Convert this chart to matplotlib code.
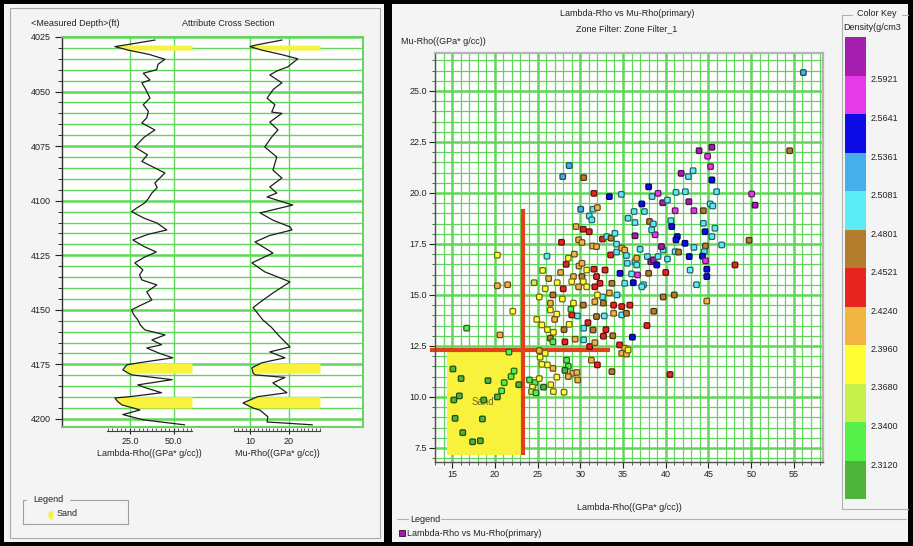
import numpy as np
import matplotlib
matplotlib.use("Agg")
import matplotlib.pyplot as plt
from matplotlib.path import Path
from matplotlib.colors import ListedColormap, BoundaryNorm
from matplotlib.patches import Rectangle, Ellipse
from matplotlib.lines import Line2D
from matplotlib.ticker import MultipleLocator, FixedLocator, FormatStrFormatter
import matplotlib.cm as cm

plt.rcParams["font.family"] = ["Liberation Sans", "DejaVu Sans"]
plt.rcParams["font.size"] = 6.5

# ---------------- well-log curves (depth in ft) ----------------
lam_depth = [4026.4, 4027.5, 4028.7, 4029.4, 4031.0, 4033.0, 4035.2, 4037.5, 4040.0, 4041.6,
             4044.7, 4046.0, 4049.0, 4053.0, 4056.0, 4059.0, 4062.0, 4064.4, 4067.6, 4071.0,
             4075.4, 4079.0, 4082.0, 4087.3, 4091.9, 4094.0, 4096.5, 4099.0, 4101.0, 4103.3,
             4105.0, 4108.0, 4110.2, 4113.4, 4115.5, 4118.0, 4121.0, 4123.5, 4126.0, 4128.5,
             4131.7, 4134.0, 4136.3, 4138.6, 4141.8, 4145.5, 4148.0, 4150.0, 4152.0, 4154.6,
             4157.0, 4159.2, 4161.5, 4163.8, 4166.0, 4167.5, 4170.0, 4172.0, 4174.3, 4175.2,
             4177.5, 4179.0, 4179.8, 4182.0, 4184.4, 4186.0, 4188.0, 4189.8, 4190.4, 4192.0,
             4193.6, 4195.0, 4195.9, 4198.0, 4200.4, 4202.7]
lam_value = [39.2, 31.0, 22.0, 16.5, 24.0, 36.0, 44.9, 41.0, 40.2, 32.6,
             36.4, 31.8, 34.0, 36.4, 32.6, 35.5, 34.6, 31.8, 39.2, 33.0,
             27.8, 35.0, 31.8, 44.9, 39.2, 40.5, 37.5, 35.5, 33.5, 29.0,
             26.0, 33.0, 40.3, 46.0, 35.0, 26.7, 33.0, 40.0, 33.0, 27.8,
             32.4, 30.5, 31.8, 40.3, 34.6, 37.5, 31.0, 26.0, 27.0, 29.5,
             31.0, 33.5, 45.0, 37.5, 43.0, 34.6, 42.0, 49.4, 30.0, 23.3,
             21.0, 24.0, 26.0, 49.0, 29.5, 35.0, 43.0, 25.0, 16.5, 18.0,
             20.5, 27.0, 30.7, 21.0, 32.4, 56.0]

mu_depth = [4026.4, 4027.5, 4028.7, 4029.4, 4031.0, 4033.0, 4035.0, 4038.7, 4040.5, 4042.4,
            4046.0, 4049.0, 4053.0, 4056.0, 4059.4, 4060.0, 4064.0, 4067.6, 4071.0, 4075.4,
            4080.0, 4086.0, 4089.6, 4093.7, 4096.5, 4098.3, 4102.0, 4105.6, 4109.0, 4112.0,
            4113.4, 4116.0, 4118.9, 4124.0, 4128.5, 4132.6, 4137.2, 4142.3, 4146.0, 4149.0,
            4154.6, 4158.0, 4162.0, 4167.0, 4169.3, 4172.0, 4174.3, 4176.6, 4179.0, 4179.8,
            4181.0, 4183.5, 4188.0, 4189.8, 4192.7, 4195.0, 4196.0, 4199.0, 4201.4, 4202.7]
mu_value = [18.2, 15.0, 11.5, 10.0, 13.0, 18.0, 22.3, 19.7, 17.0, 15.1,
            18.2, 16.0, 14.4, 16.4, 15.6, 18.2, 15.1, 17.2, 15.5, 13.8,
            16.9, 15.9, 18.2, 15.1, 16.9, 14.4, 21.0, 12.6, 16.0, 20.3,
            20.8, 15.0, 11.3, 15.9, 10.5, 13.8, 20.3, 15.9, 13.0, 10.8,
            13.3, 15.5, 17.5, 20.3, 15.1, 19.0, 13.0, 10.5, 10.8, 11.3,
            19.0, 15.9, 19.5, 12.0, 8.2, 10.8, 12.6, 14.6, 14.4, 26.0]

sand_zones = [(4028.7, 4031.0), (4174.3, 4179.0), (4189.8, 4195.0)]

depth_ticks = [4025, 4050, 4075, 4100, 4125, 4150, 4175, 4200]

# ---------------- cross-plot samples ----------------
xp_lambda = [
    16.7, 15.1, 16.05, 19.2, 15.85, 15.2, 18.7, 15.35, 18.55, 16.25, 17.4, 18.3, 20.3, 20.8,
    21.1, 21.9, 22.25, 21.65, 22.8, 24.05, 24.7, 24.4, 24.3, 24.8, 25.2, 25.7, 26.85, 28.1,
    26.55, 27.25, 26.8, 26.15, 25.5, 28.4, 28.6, 28.2, 29.1, 29.6, 28.6, 29.7, 31.3, 32.0,
    33.7, 25.2, 25.3, 25.9, 22.1, 20.6, 24.9, 25.5, 26.5, 27.25, 27.0, 26.15, 26.85, 26.5,
    26.8, 28.2, 29.4, 28.1, 28.7, 30.4, 31.1, 31.7, 30.4, 30.9, 31.5, 32.7, 29.65, 29.0,
    31.9, 32.8, 33.9, 34.85, 35.4, 34.6, 35.2, 34.85, 35.4, 35.6, 36.1,
    28.7, 27.95, 30.4, 31.6, 33.4, 34.8, 30.05, 31.5, 32.0, 31.05, 31.35, 29.5, 30.35, 31.05,
    27.8, 29.8, 30.2, 32.6, 33.1, 33.6, 34.05, 34.25, 31.45, 31.9, 26.1, 28.35, 29.85, 30.2,
    31.6, 30.75, 33.55, 34.25, 34.85, 35.2, 35.4, 35.5, 36.4, 36.6, 36.6, 29.2, 29.0, 30.2,
    30.35, 31.9, 32.9, 32.3, 33.7, 34.65, 36.0, 35.2, 36.2, 37.4, 37.0, 37.85, 38.25, 38.55,
    38.95, 39.1, 39.7, 39.5, 38.0, 36.7, 38.75, 36.4, 36.3, 35.6, 36.4, 37.2, 37.5, 38.0,
    38.4, 39.1, 39.65, 40.2, 38.1, 38.55, 38.35, 40.6, 40.7, 41.1, 41.2, 42.3, 42.7, 41.8,
    42.65, 43.2, 43.9, 44.9, 45.4, 45.25, 45.4, 45.95, 44.4, 43.3, 45.2, 45.5, 44.4, 45.75,
    44.6, 45.4, 46.55, 44.65, 44.5, 42.25, 41.35, 41.2, 42.75, 44.3, 44.65, 44.8, 44.8, 43.6,
    42.85, 40.0, 40.2, 48.1,
    56.1, 54.5, 50.05, 50.45, 49.75, 43.3, 37.2, 39.7, 41.0, 41.1, 41.5,
    29.2, 30.35, 31.7, 32.7, 33.9, 34.85, 35.8, 29.8, 30.75, 31.7,
    25.6, 26.3, 25.9, 26.8, 27.3, 27.7, 28.0, 27.9, 28.6, 29.3, 26.5, 25.2, 24.6, 28.9,
    32.6, 33.4, 32.0, 34.3, 33.0, 33.8, 20.3, 20.3, 21.5, 40.5, 44.8, 38.6, 37.8,
]
xp_mu = [
    13.37, 11.37, 10.9, 10.8, 10.05, 9.85, 9.85, 8.95, 8.92, 8.25, 7.8, 7.85, 10.0, 10.3,
    10.7, 11.0, 11.27, 12.2, 10.6, 10.83, 10.7, 10.48, 10.26, 10.2, 10.9, 10.48, 10.26, 10.23,
    10.6, 10.97, 11.4, 11.57, 11.6, 11.8, 11.5, 11.3, 11.16, 11.2, 11.0, 10.83, 11.8, 11.57,
    11.24, 12.27, 11.95, 12.14, 14.2, 13.04, 13.8, 13.53, 14.26, 14.06, 13.8, 13.3, 13.17, 12.88,
    12.7, 12.7, 12.83, 13.3, 13.56, 12.8, 12.47, 12.66, 13.37, 13.64, 13.28, 12.98, 13.97, 14.02,
    13.94, 13.97, 14.1, 14.02, 14.1, 12.55, 12.39, 12.14, 12.1, 12.3, 12.93,
    21.34, 20.8, 20.75, 19.98, 19.82, 19.93, 19.2, 19.2, 19.28, 18.87, 18.68, 18.35, 18.22, 18.1,
    17.58, 17.7, 17.57, 17.74, 17.86, 17.78, 18.02, 17.49, 17.4, 17.37, 16.9, 16.5, 16.42, 16.55,
    16.26, 16.22, 16.96, 17.1, 17.3, 17.2, 16.93, 16.55, 16.63, 16.8, 16.47, 15.9, 15.65, 15.9,
    15.65, 15.9, 16.22, 15.57, 15.57, 16.06, 16.03, 15.57, 15.6, 15.5, 17.24, 16.88, 16.63, 16.72,
    16.47, 16.88, 17.2, 17.37, 16.06, 15.98, 17.95, 17.9, 19.09, 18.76, 18.55, 19.46, 19.09, 20.3,
    19.82, 19.98, 19.52, 19.65, 18.6, 18.48, 18.19, 18.64, 18.35, 19.13, 20.03, 20.06, 19.57, 20.96,
    20.8, 21.09, 22.07, 21.8, 22.24, 21.29, 20.64, 20.06, 19.13, 19.13, 19.46, 19.36, 18.51, 18.27,
    18.1, 17.86, 17.45, 17.4, 17.12, 17.53, 17.86, 17.7, 16.88, 16.9, 16.67, 16.26, 15.9, 15.5,
    16.22, 16.1, 16.76, 16.47,
    25.9, 22.07, 19.95, 19.4, 17.68, 17.33, 15.4, 14.9, 15.0, 17.12, 17.1,
    14.6, 14.5, 14.67, 14.6, 14.5, 14.43, 14.5, 15.4, 15.4, 15.4,
    16.2, 15.8, 15.3, 15.0, 15.6, 16.1, 15.3, 14.8, 16.8, 17.0, 14.6, 14.9, 15.6, 14.3,
    14.9, 15.1, 15.0, 15.0, 13.3, 13.0, 16.95, 15.45, 15.5, 11.1, 14.7, 14.2, 13.5,
]
xp_density = [
    2.33, 2.30, 2.30, 2.30, 2.30, 2.30, 2.30, 2.30, 2.30, 2.30, 2.30, 2.30, 2.30, 2.33,
    2.33, 2.33, 2.33, 2.33, 2.30, 2.33, 2.33, 2.38, 2.36, 2.33, 2.38, 2.30, 2.38, 2.38,
    2.38, 2.38, 2.41, 2.38, 2.38, 2.33, 2.33, 2.30, 2.41, 2.41, 2.41, 2.41, 2.41, 2.44,
    2.47, 2.41, 2.38, 2.38, 2.38, 2.41, 2.38, 2.38, 2.38, 2.38, 2.41, 2.38, 2.38, 2.47,
    2.33, 2.44, 2.41, 2.47, 2.38, 2.49, 2.44, 2.41, 2.49, 2.44, 2.47, 2.44, 2.49, 2.44,
    2.47, 2.49, 2.41, 2.49, 2.47, 2.44, 2.41, 2.41, 2.41, 2.38, 2.55,
    2.52, 2.52, 2.47, 2.44, 2.55, 2.49, 2.52, 2.49, 2.41, 2.49, 2.49, 2.41, 2.44, 2.44,
    2.44, 2.41, 2.41, 2.44, 2.49, 2.47, 2.49, 2.49, 2.41, 2.41, 2.49, 2.44, 2.41, 2.41,
    2.44, 2.38, 2.44, 2.49, 2.41, 2.41, 2.49, 2.49, 2.49, 2.41, 2.49, 2.41, 2.38, 2.47,
    2.38, 2.44, 2.44, 2.44, 2.47, 2.55, 2.49, 2.49, 2.55, 2.49, 2.49, 2.49, 2.60, 2.60,
    2.55, 2.49, 2.49, 2.60, 2.47, 2.58, 2.58, 2.60, 2.49, 2.49, 2.49, 2.55, 2.49, 2.55,
    2.49, 2.58, 2.60, 2.49, 2.47, 2.49, 2.49, 2.49, 2.55, 2.58, 2.49, 2.49, 2.60, 2.60,
    2.49, 2.49, 2.60, 2.58, 2.60, 2.58, 2.55, 2.49, 2.47, 2.58, 2.49, 2.49, 2.49, 2.49,
    2.55, 2.49, 2.49, 2.47, 2.49, 2.55, 2.55, 2.55, 2.55, 2.55, 2.58, 2.55, 2.55, 2.49,
    2.49, 2.44, 2.49, 2.44,
    2.52, 2.47, 2.58, 2.60, 2.47, 2.49, 2.49, 2.47, 2.47, 2.49, 2.47,
    2.38, 2.47, 2.41, 2.47, 2.44, 2.44, 2.44, 2.41, 2.38, 2.44,
    2.38, 2.41, 2.38, 2.47, 2.38, 2.41, 2.44, 2.38, 2.38, 2.41, 2.41, 2.38, 2.36, 2.33,
    2.49, 2.41, 2.38, 2.49, 2.44, 2.47, 2.38, 2.41, 2.41, 2.44, 2.41, 2.47, 2.44,
]

# density classes of the colour key (g/cm3), lowest to highest
key_bounds = [2.284, 2.3120, 2.3400, 2.3680, 2.3960, 2.4240, 2.4521,
              2.4801, 2.5081, 2.5361, 2.5641, 2.5921, 2.620]
key_colors = ["#4fb43c", "#55f04a", "#c8f04c", "#ffff33", "#f2b443", "#e6261e",
              "#b27d2d", "#5cecf5", "#46aee8", "#0c0ce6", "#e63ae8", "#a51fae"]

# sand cut-offs on the cross-plot
sand_lambda_max = 23.3
sand_mu_max = 12.3
sand_box = (14.4, 7.16)

# ---------------- layout helpers (pixel geometry) ----------------
W, H = 913, 546
GREEN = "#62d65a"
YELLOW = "#f8f23c"


def box(x0, y0, x1, y1):
    return [x0 / W, 1 - y1 / H, (x1 - x0) / W, (y1 - y0) / H]


def ftext(x, y, s, **kw):
    kw.setdefault("ha", "left")
    kw.setdefault("va", "center")
    kw.setdefault("color", "#222222")
    return fig.text(x / W, 1 - y / H, s, **kw)


def fline(xs, ys, **kw):
    fig.add_artist(Line2D([x / W for x in xs], [1 - y / H for y in ys],
                          transform=fig.transFigure, **kw))


def frect(x0, y0, x1, y1, **kw):
    fig.add_artist(Rectangle((x0 / W, 1 - y1 / H), (x1 - x0) / W, (y1 - y0) / H,
                             transform=fig.transFigure, **kw))


def rounded_square(r=0.45):
    verts = [(-1 + r, -1), (1 - r, -1), (1, -1), (1, -1 + r), (1, 1 - r), (1, 1),
             (1 - r, 1), (-1 + r, 1), (-1, 1), (-1, 1 - r), (-1, -1 + r), (-1, -1),
             (-1 + r, -1), (-1 + r, -1)]
    codes = [Path.MOVETO, Path.LINETO, Path.CURVE3, Path.CURVE3, Path.LINETO,
             Path.CURVE3, Path.CURVE3, Path.LINETO, Path.CURVE3, Path.CURVE3,
             Path.LINETO, Path.CURVE3, Path.CURVE3, Path.CLOSEPOLY]
    return Path(verts, codes)


fig = plt.figure(figsize=(W / 100, H / 100), dpi=100, facecolor="black")

# window panels
frect(4, 4, 384, 542, facecolor="#f4f4f4", edgecolor="none", zorder=-10)
frect(392, 4, 908, 542, facecolor="#f4f4f4", edgecolor="none", zorder=-10)
frect(10, 8, 380, 538, facecolor="none", edgecolor="#a8a8a8", lw=0.8, zorder=-9)

# ================= left panel: attribute cross section =================
D_TOP, D_BOT = 4025.0, 4203.7
ax_t = fig.add_axes(box(62, 37, 363, 427))
ax_t.set_facecolor("white")
ax_t.set_xlim(0, 1)
ax_t.set_ylim(D_BOT, D_TOP)
ax_t.yaxis.set_major_locator(FixedLocator(depth_ticks))
ax_t.yaxis.set_minor_locator(MultipleLocator(5))
ax_t.grid(axis="y", which="major", color=GREEN, lw=1.8)
ax_t.grid(axis="y", which="minor", color=GREEN, lw=1.0)
ax_t.set_xticks([])
for s in ("top", "right", "bottom"):
    ax_t.spines[s].set_color(GREEN)
    ax_t.spines[s].set_linewidth(1.4)
ax_t.spines["left"].set_color("#303030")
ax_t.spines["left"].set_linewidth(1.0)
ax_t.tick_params(axis="y", which="major", length=5, width=0.8, pad=3, labelsize=6.5,
                 colors="#222222")
ax_t.tick_params(axis="y", which="minor", length=3, width=0.7, colors="#303030")


def log_track(x0, x1, lo, hi, depth, value, grid_vals, tick_vals, tick_fmt, minor_step, label):
    ax = fig.add_axes(box(x0, 37, x1, 427))
    ax.set_xlim(lo, hi)
    ax.set_ylim(D_BOT, D_TOP)
    ax.axis("off")
    for g in grid_vals:
        ax.axvline(g, color=GREEN, lw=1.0, zorder=0.5)
    d = np.asarray(depth)
    v = np.asarray(value)
    for top, base in sand_zones:
        m = (d >= top) & (d <= base)
        ax.fill_betweenx(d, v, hi, where=m, color=YELLOW, lw=0, zorder=1)
    ax.plot(v, d, color="#1e1e1e", lw=0.9, zorder=2)
    # scale bar beneath the track
    sc = fig.add_axes(box(x0, 430, x1, 431))
    sc.set_xlim(lo, hi)
    sc.set_facecolor("none")
    for s in ("top", "left", "right"):
        sc.spines[s].set_visible(False)
    sc.spines["bottom"].set_color("#404040")
    sc.set_yticks([])
    sc.xaxis.set_major_locator(FixedLocator(tick_vals))
    sc.xaxis.set_major_formatter(FormatStrFormatter(tick_fmt))
    sc.xaxis.set_minor_locator(MultipleLocator(minor_step))
    sc.tick_params(axis="x", which="major", direction="inout", length=5, width=0.8,
                   pad=2, labelsize=6.5, colors="#222222")
    sc.tick_params(axis="x", which="minor", direction="in", length=2.5, width=0.6,
                   colors="#404040")
    ftext((x0 + x1) / 2, 453, label, ha="center", fontsize=6.5)


log_track(107, 192, 12.0, 60.3, lam_depth, lam_value, [25, 50], [25, 50], "%.1f", 2.5,
          "Lambda-Rho((GPa* g/cc))")
log_track(234, 320, 5.9, 28.0, mu_depth, mu_value, [10, 20], [10, 20], "%d", 1.0,
          "Mu-Rho((GPa* g/cc))")

ftext(31, 24, "<Measured Depth>(ft)")
ftext(228, 24, "Attribute Cross Section", ha="center")

# left legend group box
fline([23, 23, 128, 128, 23], [500, 524, 524, 500, 500], color="#a0a0a0", lw=0.8)
ftext(33, 500, "Legend", backgroundcolor="#f4f4f4", fontsize=6.5)
fig.add_artist(Ellipse((51 / W, 1 - 515 / H), 5 / W, 9 / H, transform=fig.transFigure,
                       facecolor=YELLOW, edgecolor="none"))
ftext(57, 513, "Sand")

# ================= right panel: cross-plot =================
ax_s = fig.add_axes(box(435, 53, 823, 462))
ax_s.set_facecolor("white")
ax_s.set_xlim(13.0, 58.4)
ax_s.set_ylim(6.81, 26.86)
ax_s.xaxis.set_major_locator(MultipleLocator(5))
ax_s.xaxis.set_minor_locator(MultipleLocator(1))
ax_s.yaxis.set_major_locator(MultipleLocator(2.5))
ax_s.yaxis.set_minor_locator(MultipleLocator(0.5))
ax_s.yaxis.set_major_formatter(FormatStrFormatter("%.1f"))
ax_s.set_axisbelow(True)
ax_s.grid(which="major", color=GREEN, lw=1.8)
ax_s.grid(which="minor", color=GREEN, lw=0.9)
for s in ("top", "right"):
    ax_s.spines[s].set_color("#b4b4b4")
    ax_s.spines[s].set_linewidth(1.6)
for s in ("left", "bottom"):
    ax_s.spines[s].set_color("#505050")
    ax_s.spines[s].set_linewidth(1.0)
ax_s.tick_params(which="major", length=4, width=0.8, pad=2, labelsize=6.5, colors="#222222")
ax_s.tick_params(which="minor", length=2, width=0.6, colors="#404040")

ax_s.add_patch(Rectangle(sand_box, sand_lambda_max - sand_box[0], sand_mu_max - sand_box[1],
                         facecolor=YELLOW, edgecolor="none", zorder=1.5))
ax_s.text(18.6, 9.75, "Sand", color="#6f6a2a", fontsize=7, ha="center", va="center",
          zorder=1.6)
ax_s.plot([sand_lambda_max, sand_lambda_max], [sand_box[1], 19.2], color="#e2401c", lw=3.0,
          solid_capstyle="butt", zorder=2)
ax_s.plot([12.4, 33.5], [sand_mu_max, sand_mu_max], color="#e2401c", lw=3.0,
          solid_capstyle="butt", zorder=2, clip_on=False)

cmap = ListedColormap(key_colors)
norm = BoundaryNorm(key_bounds, cmap.N)
face = cmap(norm(np.asarray(xp_density)))
edge = face.copy()
edge[:, :3] *= 0.42
ax_s.scatter(xp_lambda, xp_mu, s=16, marker=rounded_square(), c=face, edgecolors=edge,
             linewidths=0.9, zorder=3)

ftext(627, 14, "Lambda-Rho vs Mu-Rho(primary)", ha="center")
ftext(627, 29, "Zone Filter: Zone Filter_1", ha="center")
ftext(401, 42, "Mu-Rho((GPa* g/cc))")
ftext(629, 507, "Lambda-Rho((GPa* g/cc))", ha="center")

# colour key
cax = fig.add_axes(box(845, 37, 866, 499))
cb = fig.colorbar(cm.ScalarMappable(norm=norm, cmap=cmap), cax=cax,
                  ticks=key_bounds[1:-1], spacing="uniform", format="%.4f")
cb.outline.set_visible(False)
cax.minorticks_off()
cax.tick_params(length=0, pad=3, labelsize=6.5, colors="#222222")
for t in cax.get_yticklabels():
    t.set_va("top")
fline([852, 842, 842, 908], [15, 15, 509, 509], color="#b0b0b0", lw=0.8)
fline([902, 908], [15, 15], color="#b0b0b0", lw=0.8)
ftext(877, 14, "Color Key", ha="center")
ftext(843, 28, "Density(g/cm3")

# bottom legend
fline([397, 408], [519, 519], color="#b0b0b0", lw=0.8)
fline([441, 906], [519, 519], color="#b0b0b0", lw=0.8)
ftext(410, 519, "Legend")
fig.add_artist(Line2D([402 / W], [1 - 533 / H], transform=fig.transFigure, marker="s",
                      markersize=4.5, markerfacecolor="#9a1fa4",
                      markeredgecolor="#3c0a40", markeredgewidth=0.6))
ftext(407, 533, "Lambda-Rho vs Mu-Rho(primary)")

fig.savefig("out.png", dpi=100, facecolor=fig.get_facecolor())
